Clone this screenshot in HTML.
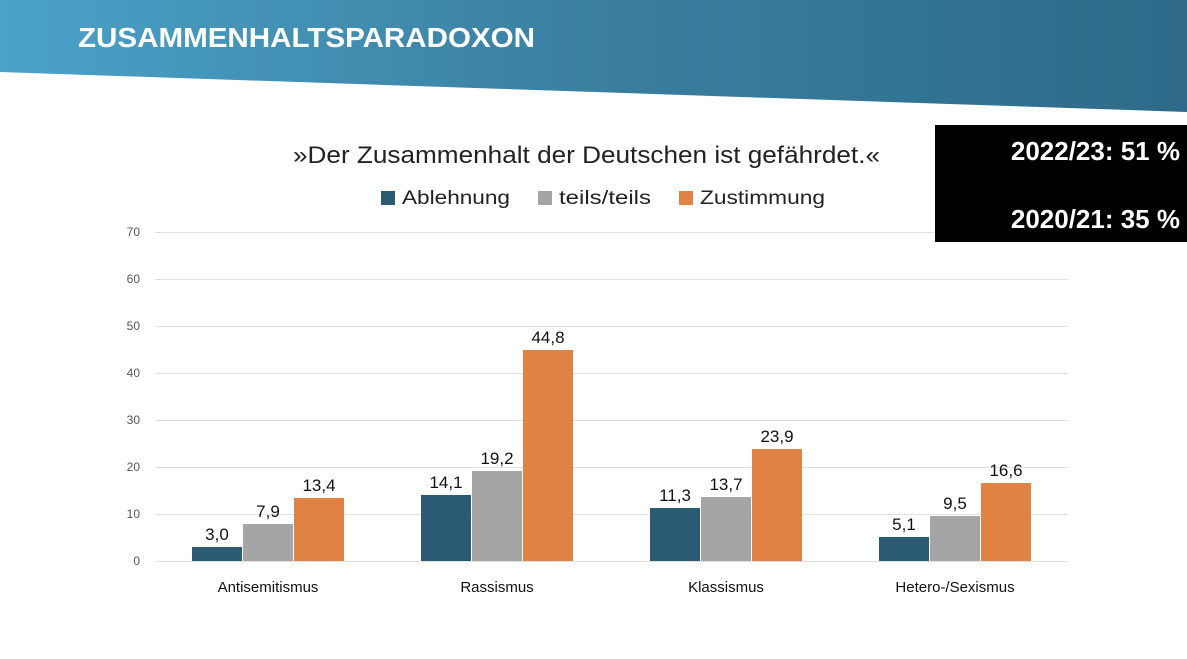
<!DOCTYPE html>
<html><head><meta charset="utf-8"><style>
html,body{margin:0;padding:0;background:#fff;}
body{width:1187px;height:659px;overflow:hidden;position:relative;font-family:"Liberation Sans",sans-serif;}
</style></head><body>
<svg width="1187" height="659" xmlns="http://www.w3.org/2000/svg" style="position:absolute;left:0;top:0">
<defs><linearGradient id="g" x1="0" x2="1" y1="0" y2="0"><stop offset="0" stop-color="#4aa2c8"/><stop offset="0.5" stop-color="#3a7fa0"/><stop offset="1" stop-color="#2e6a88"/></linearGradient></defs>
<polygon points="0,0 1187,0 1187,112 0,72" fill="url(#g)"/>
<text x="78" y="47" fill="#fff" font-size="28" font-weight="bold" textLength="457" lengthAdjust="spacingAndGlyphs">ZUSAMMENHALTSPARADOXON</text>
<text x="293" y="163" fill="#222" font-size="24" textLength="587" lengthAdjust="spacingAndGlyphs">»Der Zusammenhalt der Deutschen ist gefährdet.«</text>
<rect x="381" y="191" width="14" height="14" fill="#2b5a73"/>
<text x="402" y="204" font-size="19" fill="#222" textLength="108" lengthAdjust="spacingAndGlyphs">Ablehnung</text>
<rect x="538" y="191" width="14" height="14" fill="#a5a5a5"/>
<text x="559" y="204" font-size="19" fill="#222" textLength="92" lengthAdjust="spacingAndGlyphs">teils/teils</text>
<rect x="679" y="191" width="14" height="14" fill="#e08244"/>
<text x="700" y="204" font-size="19" fill="#222" textLength="125" lengthAdjust="spacingAndGlyphs">Zustimmung</text>
<g stroke="#e0e0e0" stroke-width="1">
<line x1="155" x2="1068" y1="232.5" y2="232.5"/><line x1="155" x2="1068" y1="279.5" y2="279.5"/><line x1="155" x2="1068" y1="326.5" y2="326.5"/><line x1="155" x2="1068" y1="373.5" y2="373.5"/><line x1="155" x2="1068" y1="420.5" y2="420.5"/><line x1="155" x2="1068" y1="467.5" y2="467.5"/><line x1="155" x2="1068" y1="514.5" y2="514.5"/><line x1="155" x2="1068" y1="561.5" y2="561.5"/>
</g>
<rect x="935" y="125" width="252" height="117" fill="#000"/>
<text x="1180" y="160" fill="#fff" font-size="26" font-weight="bold" text-anchor="end">2022/23: 51 %</text>
<text x="1180" y="228" fill="#fff" font-size="26" font-weight="bold" text-anchor="end">2020/21: 35 %</text>
<g font-size="12" fill="#555" text-anchor="end">
<text x="140" y="236">70</text><text x="140" y="283">60</text><text x="140" y="330">50</text><text x="140" y="377">40</text><text x="140" y="424">30</text><text x="140" y="471">20</text><text x="140" y="518">10</text><text x="140" y="565">0</text>
</g>
<g>
<rect x="192" y="547" width="50" height="14" fill="#2b5a73"/><rect x="243" y="524" width="50" height="37" fill="#a5a5a5"/><rect x="294" y="498" width="50" height="63" fill="#e08244"/>
<rect x="421" y="495" width="50" height="66" fill="#2b5a73"/><rect x="472" y="471" width="50" height="90" fill="#a5a5a5"/><rect x="523" y="350" width="50" height="211" fill="#e08244"/>
<rect x="650" y="508" width="50" height="53" fill="#2b5a73"/><rect x="701" y="497" width="50" height="64" fill="#a5a5a5"/><rect x="752" y="449" width="50" height="112" fill="#e08244"/>
<rect x="879" y="537" width="50" height="24" fill="#2b5a73"/><rect x="930" y="516" width="50" height="45" fill="#a5a5a5"/><rect x="981" y="483" width="50" height="78" fill="#e08244"/>
</g>
<g font-size="17" fill="#111" text-anchor="middle">
<text x="217" y="540">3,0</text><text x="268" y="517">7,9</text><text x="319" y="491">13,4</text>
<text x="446" y="488">14,1</text><text x="497" y="464">19,2</text><text x="548" y="343">44,8</text>
<text x="675" y="501">11,3</text><text x="726" y="490">13,7</text><text x="777" y="442">23,9</text>
<text x="904" y="530">5,1</text><text x="955" y="509">9,5</text><text x="1006" y="476">16,6</text>
</g>
<g font-size="15" fill="#111" text-anchor="middle">
<text x="268" y="592">Antisemitismus</text><text x="497" y="592">Rassismus</text><text x="726" y="592">Klassismus</text><text x="955" y="592">Hetero-/Sexismus</text>
</g>
</svg>
</body></html>
